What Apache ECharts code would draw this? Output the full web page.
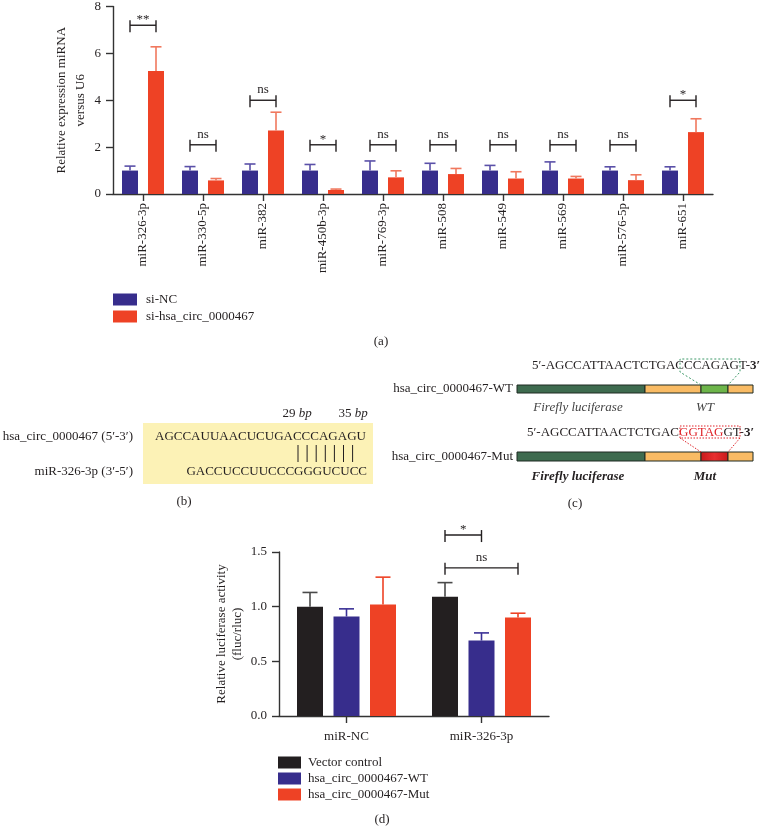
<!DOCTYPE html>
<html><head><meta charset="utf-8">
<script src="https://cdn.jsdelivr.net/npm/echarts@6/dist/echarts.min.js"></script>
<style>html,body{margin:0;padding:0;background:#fff}#c{width:767px;height:838px}</style>
</head><body><div id="c"></div>
<script>
// ---------- Panel (a) data ----------
const miRNAs = ['miR-326-3p','miR-330-5p','miR-382','miR-450b-3p','miR-769-3p','miR-508','miR-549','miR-569','miR-576-5p','miR-651'];
const siNC = [1,1,1,1,1,1,1,1,1,1];
const siNCUpper = [1.19,1.17,1.28,1.26,1.41,1.31,1.22,1.37,1.16,1.16];
const siCirc = [5.25,0.58,2.71,0.17,0.71,0.85,0.66,0.66,0.59,2.64];
const siCircUpper = [6.28,0.66,3.49,0.21,0.99,1.09,0.95,0.75,0.82,3.21];
const sigLabelsA = ['**','ns','ns','*','ns','ns','ns','ns','ns','*'];
const sigHeightsA = [7.2,2.1,4.0,2.1,2.1,2.1,2.1,2.1,2.1,4.0];
const yTicksA = [0,2,4,6,8];
// ---------- Panel (d) data ----------
const groupsD = ['miR-NC','miR-326-3p'];
const vectorCtrl = [1.00,1.09];
const vectorCtrlUpper = [1.13,1.22];
const wtVals = [0.91,0.69];
const wtUpper = [0.98,0.76];
const mutVals = [1.02,0.90];
const mutUpper = [1.27,0.94];
const sigGroupD = [1,1];
const sigHeightsD = [1.655,1.355];
const sigFromD = [0,0];
const sigToD = [1,2];
const sigLabelsD = ['*','ns'];
const yTicksD = [0,0.5,1.0,1.5];

// ---------- styles ----------
const F = '"Liberation Serif","Times New Roman",serif';
const TXT = '#231f20';
const BLUE = '#372d8c', RED = '#ee4225', BLACK = '#231f20';
const AXC = '#333333';
const A_W = 16, A_GAP = 10, D_W = 26, D_GAP = 10.5;

function offset(idx, n, w, gap){ return (idx-(n-1)/2)*(w+gap); }

function errSeries(id, xi, yi, vals, ups, idx, n, w, gap, color, cap){
  return {type:'custom', id:id, name:id, xAxisIndex:xi, yAxisIndex:yi, z:5, silent:true,
    data: vals.map((v,i)=>[i,v,ups[i]]),
    encode:{x:0,y:[1,2]},
    renderItem:(p,api)=>{
      const a = api.coord([api.value(0),api.value(1)]);
      const b = api.coord([api.value(0),api.value(2)]);
      const x = a[0]+offset(idx,n,w,gap);
      const st = {stroke:color,lineWidth:1.6};
      return {type:'group',children:[
        {type:'line',shape:{x1:x,y1:a[1],x2:x,y2:b[1]},style:st},
        {type:'line',shape:{x1:x-cap/2,y1:b[1],x2:x+cap/2,y2:b[1]},style:st}]};
    }};
}

function bracketSeries(id, xi, yi, cats, ys, froms, tos, labels, n, w, gap){
  return {type:'custom', id:id, name:id, xAxisIndex:xi, yAxisIndex:yi, z:6, silent:true, clip:false,
    data: cats.map((c,i)=>[c, ys[i]]),
    encode:{x:0,y:1},
    renderItem:(p,api)=>{
      const i = p.dataIndex;
      const c = api.coord([api.value(0),api.value(1)]);
      const x1 = c[0]+offset(froms[i],n,w,gap), x2 = c[0]+offset(tos[i],n,w,gap), y = c[1];
      const st = {stroke:'#231f20',lineWidth:1.4};
      const isStar = labels[i].indexOf('*')>=0;
      const ty = isStar ? y+1 : y-4;
      return {type:'group',children:[
        {type:'line',shape:{x1:x1,y1:y,x2:x2,y2:y},style:st},
        {type:'line',shape:{x1:x1,y1:y-5,x2:x1,y2:y+7},style:st},
        {type:'line',shape:{x1:x2,y1:y-5,x2:x2,y2:y+7},style:st},
        {type:'text',x:(x1+x2)/2,y:ty,style:{text:labels[i],fill:TXT,fontFamily:F,fontSize:13,
          textAlign:'center',textVerticalAlign:'bottom',align:'center',verticalAlign:'bottom'}}]};
    }};
}

function T(x,y,text,opt){
  opt = opt||{};
  const al = opt.align||'left', va = opt.va||'middle';
  const s = {text:text, fill:opt.fill||TXT, fontFamily:F, fontSize:opt.size||13,
    fontStyle:opt.italic?'italic':'normal', fontWeight:opt.bold?'bold':'normal',
    textAlign:al, align:al, textVerticalAlign:va, verticalAlign:va};
  if (opt.rich) s.rich = opt.rich;
  return {type:'text', x:x, y:y, style:s, silent:true};
}
function R(x,y,w,h,fill,stroke){
  return {type:'rect', shape:{x:x,y:y,width:w,height:h}, style:{fill:fill, stroke:stroke||null, lineWidth:stroke?1:0}, silent:true};
}
function PL(points,color,dash){
  return {type:'polyline', shape:{points:points}, style:{stroke:color, lineWidth:1, lineDash:dash||null, fill:null}, silent:true};
}
function L(x1,y1,x2,y2,color,w){
  return {type:'line', shape:{x1:x1,y1:y1,x2:x2,y2:y2}, style:{stroke:color,lineWidth:w||1}, silent:true};
}

const axisCommon = {
  axisLine:{show:true,lineStyle:{color:AXC,width:1.4}},
  axisTick:{show:true,length:7,lineStyle:{color:AXC,width:1.4}},
  splitLine:{show:false},
  axisLabel:{fontFamily:F,fontSize:13,color:TXT}
};

// ---------- graphics for panels b, c and labels ----------
const graphics = [];
// panel labels
graphics.push(T(381,342,'(a)',{align:'center'}));
graphics.push(T(184,502,'(b)',{align:'center'}));
graphics.push(T(575,504,'(c)',{align:'center'}));
graphics.push(T(382,820,'(d)',{align:'center'}));
// panel b
graphics.push(R(143,423,230,61,'#fcf2b6'));
graphics.push(T(297,414,'29 {i|bp}',{align:'center',rich:{i:{fontFamily:F,fontSize:13,fontStyle:'italic',fill:TXT}}}));
graphics.push(T(353,414,'35 {i|bp}',{align:'center',rich:{i:{fontFamily:F,fontSize:13,fontStyle:'italic',fill:TXT}}}));
graphics.push(T(133,437,'hsa_circ_0000467 (5\u2032-3\u2032)',{align:'right'}));
graphics.push(T(133,472,'miR-326-3p (3\u2032-5\u2032)',{align:'right'}));
graphics.push(T(155,437,'AGCCAUUAACUCUGACCCAGAGU'));
graphics.push(T(367,472,'GACCUCCUUCCCGGGUCUCC',{align:'right'}));
for (let k=0;k<7;k++){ const x = 298+k*9.1; graphics.push(L(x,445,x,462,'#231f20',1)); }
// panel c - WT
graphics.push(T(532,366,'5\u2032-AGCCATTAACTCTGACCCAGAGT-{b|3\u2032}',{size:13,rich:{b:{fontFamily:F,fontSize:13,fontWeight:'bold',fill:TXT}}}));
graphics.push(T(513,389,'hsa_circ_0000467-WT',{align:'right'}));
graphics.push(R(517,385,128,8,'#3e6b4f','#1f2a22'));
graphics.push(R(645,385,56,8,'#f9bb64','#1f2a22'));
graphics.push(R(701,385,27,8,'#6db54a','#1f2a22'));
graphics.push(R(728,385,25,8,'#f9bb64','#1f2a22'));
graphics.push(PL([[701,385],[680,372],[680,359],[740,359],[740,372],[728,385]],'#3f9a6a',[2,2]));
graphics.push(T(578,408,'Firefly luciferase',{align:'center',italic:true,fill:'#444'}));
graphics.push(T(705,408,'WT',{align:'center',italic:true,fill:'#444'}));
// panel c - Mut
graphics.push(T(527,433,'5\u2032-AGCCATTAACTCTGAC{r|GGTAG}GT-{b|3\u2032}',{size:13,rich:{
  r:{fontFamily:F,fontSize:13,fill:'#e0242a'},
  b:{fontFamily:F,fontSize:13,fontWeight:'bold',fill:TXT}}}));
graphics.push(T(513,457,'hsa_circ_0000467-Mut',{align:'right'}));
graphics.push(R(517,452,128,9,'#3e6b4f','#1f2a22'));
graphics.push(R(645,452,56,9,'#f9bb64','#1f2a22'));
graphics.push({type:'rect', shape:{x:701,y:452,width:27,height:9}, silent:true,
  style:{fill:{type:'linear',x:0,y:0,x2:1,y2:0,colorStops:[{offset:0,color:'#c81a1a'},{offset:0.5,color:'#e83030'},{offset:1,color:'#c81a1a'}]}, stroke:'#1f2a22', lineWidth:1}});
graphics.push(R(728,452,25,9,'#f9bb64','#1f2a22'));
graphics.push(PL([[680,426],[740,426],[740,438],[680,438],[680,426]],'#e0242a',[1.5,1.5]));
graphics.push(PL([[680,438],[701,452]],'#e0242a',[1.5,1.5]));
graphics.push(PL([[740,438],[728,452]],'#e0242a',[1.5,1.5]));
graphics.push(T(578,477,'Firefly luciferase',{align:'center',italic:true,bold:true}));
graphics.push(T(705,477,'Mut',{align:'center',italic:true,bold:true}));

const option = {
  animation:false,
  backgroundColor:'#ffffff',
  textStyle:{fontFamily:F},
  grid:[
    {left:113, top:5, width:600, height:189, containLabel:false},
    {left:279, top:552, width:270, height:164, containLabel:false}
  ],
  legend:[
    {data:['si-NC','si-hsa_circ_0000467'], left:108, top:288, orient:'vertical', icon:'rect',
     itemWidth:24, itemHeight:12, itemGap:4, selectedMode:false,
     textStyle:{fontFamily:F,fontSize:13,color:TXT,padding:[0,0,0,4]}},
    {data:['Vector control','hsa_circ_0000467-WT','hsa_circ_0000467-Mut'], left:273, top:751, orient:'vertical', icon:'rect',
     itemWidth:23, itemHeight:12, itemGap:3, selectedMode:false,
     textStyle:{fontFamily:F,fontSize:13,color:TXT,padding:[0,0,0,2]}}
  ],
  xAxis:[
    Object.assign({}, axisCommon, {type:'category', gridIndex:0, data:miRNAs,
      axisTick:{show:true,length:7,alignWithLabel:true,lineStyle:{color:AXC,width:1.4}},
      axisLabel:{fontFamily:F,fontSize:13,color:TXT,rotate:90,margin:9,interval:0}}),
    Object.assign({}, axisCommon, {type:'category', gridIndex:1, data:groupsD,
      axisTick:{show:true,length:7,alignWithLabel:true,lineStyle:{color:AXC,width:1.4}},
      axisLabel:{fontFamily:F,fontSize:13,color:TXT,margin:14,interval:0}})
  ],
  yAxis:[
    Object.assign({}, axisCommon, {type:'value', gridIndex:0, min:yTicksA[0], max:yTicksA[yTicksA.length-1], interval:yTicksA[1]-yTicksA[0],
      axisLabel:{fontFamily:F,fontSize:13,color:TXT,margin:12},
      name:'Relative expression miRNA\nversus U6', nameLocation:'middle', nameGap:23, nameMoveOverlap:false,
      nameTextStyle:{fontFamily:F,fontSize:13,color:TXT,lineHeight:19}}),
    Object.assign({}, axisCommon, {type:'value', gridIndex:1, min:yTicksD[0], max:yTicksD[yTicksD.length-1], interval:yTicksD[1]-yTicksD[0],
      axisLabel:{fontFamily:F,fontSize:13,color:TXT,margin:12,formatter:v=>v.toFixed(1)},
      name:'Relative luciferase activity\n(fluc/rluc)', nameLocation:'middle', nameGap:33, nameMoveOverlap:false,
      nameTextStyle:{fontFamily:F,fontSize:13,color:TXT,lineHeight:16}})
  ],
  series:[
    {type:'bar', name:'si-NC', xAxisIndex:0, yAxisIndex:0, data:siNC, barWidth:A_W, barGap:(A_GAP/A_W*100)+'%', itemStyle:{color:BLUE}, z:2},
    {type:'bar', name:'si-hsa_circ_0000467', xAxisIndex:0, yAxisIndex:0, data:siCirc, barWidth:A_W, barGap:(A_GAP/A_W*100)+'%', itemStyle:{color:RED}, z:2},
    errSeries('err-siNC',0,0,siNC,siNCUpper,0,2,A_W,A_GAP,'#5a50a8',11),
    errSeries('err-siCirc',0,0,siCirc,siCircUpper,1,2,A_W,A_GAP,'#f0785e',11),
    bracketSeries('sig-a',0,0,miRNAs.map((_,i)=>i),sigHeightsA,miRNAs.map(()=>0),miRNAs.map(()=>1),sigLabelsA,2,A_W,A_GAP),
    {type:'bar', name:'Vector control', xAxisIndex:1, yAxisIndex:1, data:vectorCtrl, barWidth:D_W, barGap:(D_GAP/D_W*100)+'%', itemStyle:{color:BLACK}, z:2},
    {type:'bar', name:'hsa_circ_0000467-WT', xAxisIndex:1, yAxisIndex:1, data:wtVals, barWidth:D_W, barGap:(D_GAP/D_W*100)+'%', itemStyle:{color:BLUE}, z:2},
    {type:'bar', name:'hsa_circ_0000467-Mut', xAxisIndex:1, yAxisIndex:1, data:mutVals, barWidth:D_W, barGap:(D_GAP/D_W*100)+'%', itemStyle:{color:RED}, z:2},
    errSeries('err-vc',1,1,vectorCtrl,vectorCtrlUpper,0,3,D_W,D_GAP,'#4a4a4a',15),
    errSeries('err-wt',1,1,wtVals,wtUpper,1,3,D_W,D_GAP,'#3b3196',15),
    errSeries('err-mut',1,1,mutVals,mutUpper,2,3,D_W,D_GAP,'#ee4225',15),
    bracketSeries('sig-d',1,1,sigGroupD,sigHeightsD,sigFromD,sigToD,sigLabelsD,3,D_W,D_GAP)
  ],
  graphic:{elements:graphics}
};
const chart = echarts.init(document.getElementById('c'), null, {renderer:'canvas'});
chart.setOption(option);
</script>
</body></html>
